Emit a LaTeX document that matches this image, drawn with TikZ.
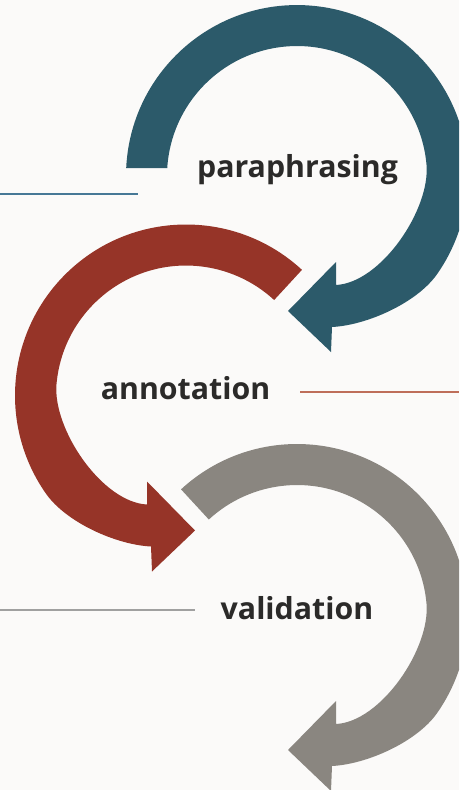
\documentclass[tikz,border=0pt]{standalone}
\usepackage{fontspec}
\setmainfont{Open Sans}
\definecolor{bluec}{RGB}{44,90,106}
\definecolor{redc}{RGB}{150,52,40}
\definecolor{grayc}{RGB}{138,134,128}
\definecolor{bgc}{RGB}{251,250,249}
\definecolor{txtc}{RGB}{43,42,41}
\definecolor{bluel}{RGB}{70,120,150}
\definecolor{redl}{RGB}{190,110,90}
\definecolor{grayl}{RGB}{160,160,160}
\newcommand\arrowshape[3]{%
 (#1) arc[start angle=#2, end angle=395, radius=171]
 .. controls (120,126.8) and (70,149.25) .. (35,151)
 -- (34,176) -- (-9,135) -- (39,86) -- (39,109)
 .. controls (84,106.75) and (133.4,33.5) .. (129.5,-11.3)
 arc[start angle=355, end angle=#3, radius=130] -- cycle}
\tikzset{
  lbl/.style={font=\bfseries\fontsize{30.3}{36}\selectfont, text=txtc, inner sep=0pt, anchor=base},
  rule/.style={line width=1.2pt}
}
\begin{document}
\begin{tikzpicture}[x=1pt,y=-1pt]
\useasboundingbox (0,0) rectangle (459,790);
\fill[bgc] (0,0) rectangle (459,790);
\clip (0,0) rectangle (459,790);
% blue arrow
\begin{scope}[shift={(297,176)}]
  \fill[bluec] \arrowshape{-170.8,-8}{182.7}{183.5};
\end{scope}
% red arrow
\begin{scope}[shift={(186,395.5)}, xscale=-1]
  \fill[redc] \arrowshape{227.3:171}{227.3}{227.3};
\end{scope}
% gray arrow
\begin{scope}[shift={(297,615)}]
  \fill[grayc] \arrowshape{227.3:171}{227.3}{227.3};
\end{scope}
% labels
\node[lbl] (para) at (297.5,177) {paraphrasing};
\node[lbl] (anno) at (185.5,399) {annotation};
\node[lbl] (vali) at (297,619) {validation};
% rules
\coordinate (b1) at (0,194);
\coordinate (b2) at (138,194);
\coordinate (r1) at (300,392);
\coordinate (r2) at (459,392);
\coordinate (g1) at (0,610);
\coordinate (g2) at (195,610);
\draw[rule, bluel] (b1) -- (b2);
\draw[rule, redl] (r1) -- (r2);
\draw[rule, grayl] (g1) -- (g2);
\end{tikzpicture}
\end{document}
